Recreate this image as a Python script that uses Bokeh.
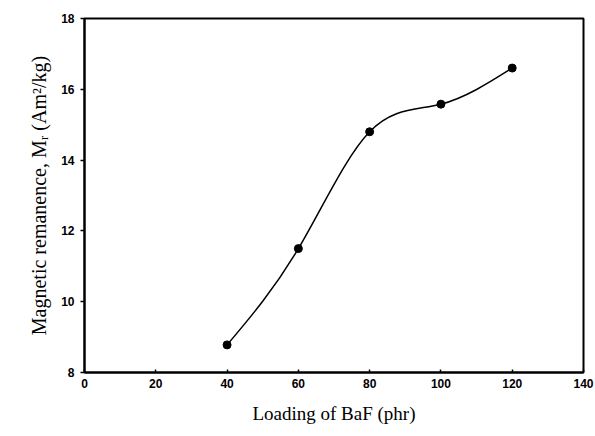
import numpy as np
from bokeh.plotting import figure
from bokeh.models import Range1d, FixedTicker, ColumnDataSource
from bokeh.embed import file_html
from bokeh.resources import INLINE

# Data
loading = [40, 60, 80, 100, 120]
remanence = [8.78, 11.5, 14.8, 15.58, 16.6]
x_ticks = [0, 20, 40, 60, 80, 100, 120, 140]
y_ticks = [8, 10, 12, 14, 16, 18]

x = np.array(loading, dtype=float)
y = np.array(remanence, dtype=float)

# natural cubic spline slopes -> Bezier segments through the points
n = len(x)
h = np.diff(x)
A = np.zeros((n, n))
b = np.zeros(n)
A[0, 0] = 1
A[-1, -1] = 1
for i in range(1, n - 1):
    A[i, i - 1] = h[i - 1]
    A[i, i] = 2 * (h[i - 1] + h[i])
    A[i, i + 1] = h[i]
    b[i] = 6 * ((y[i + 1] - y[i]) / h[i] - (y[i] - y[i - 1]) / h[i - 1])
M = np.linalg.solve(A, b)
m = np.zeros(n)
for i in range(n - 1):
    m[i] = (y[i + 1] - y[i]) / h[i] - h[i] * (2 * M[i] + M[i + 1]) / 6
m[-1] = (y[-1] - y[-2]) / h[-1] + h[-1] * (M[-2] + 2 * M[-1]) / 6

seg = ColumnDataSource(dict(
    x0=x[:-1], y0=y[:-1], x1=x[1:], y1=y[1:],
    cx0=x[:-1] + h / 3, cy0=y[:-1] + m[:-1] * h / 3,
    cx1=x[1:] - h / 3, cy1=y[1:] - m[1:] * h / 3,
))

p = figure(width=595, height=436, output_backend="svg", toolbar_location=None,
           x_range=Range1d(0, 140), y_range=Range1d(8, 18),
           min_border_left=84, min_border_right=12, min_border_top=18, min_border_bottom=64)
p.background_fill_color = "white"
p.border_fill_color = "white"
p.grid.visible = False
p.outline_line_color = "black"
p.outline_line_width = 2

p.bezier(x0="x0", y0="y0", x1="x1", y1="y1", cx0="cx0", cy0="cy0", cx1="cx1", cy1="cy1",
         source=seg, line_color="black", line_width=1.5)
p.scatter(loading, remanence, size=8, color="black")

for ax in (p.xaxis[0], p.yaxis[0]):
    ax.axis_line_width = 2
    ax.axis_line_color = "black"
    ax.major_tick_line_color = "black"
    ax.major_tick_line_width = 1.5
    ax.minor_tick_line_color = None
    ax.major_label_text_font = "Liberation Sans"
    ax.major_label_text_font_style = "bold"
    ax.major_label_text_font_size = "12px"
    ax.major_label_text_color = "black"
    ax.axis_label_text_font = "Liberation Serif"
    ax.axis_label_text_font_style = "normal"
    ax.axis_label_text_font_size = "19px"
    ax.axis_label_text_color = "black"

p.yaxis.axis_label_text_font_size = "20px"
p.xaxis.ticker = FixedTicker(ticks=x_ticks)
p.yaxis.ticker = FixedTicker(ticks=y_ticks)
p.xaxis.major_tick_in = 3
p.xaxis.major_tick_out = 0
p.yaxis.major_tick_in = 0
p.yaxis.major_tick_out = 4
p.xaxis.major_label_standoff = 6
p.yaxis.major_label_standoff = 6
p.xaxis.axis_label = "Loading of BaF (phr)"
p.yaxis.axis_label = "Magnetic remanence, M\u1d63 (Am\u00b2/kg)"
p.xaxis.axis_label_standoff = 12
p.yaxis.axis_label_standoff = 8

open("out.html", "w").write(file_html(p, INLINE))
